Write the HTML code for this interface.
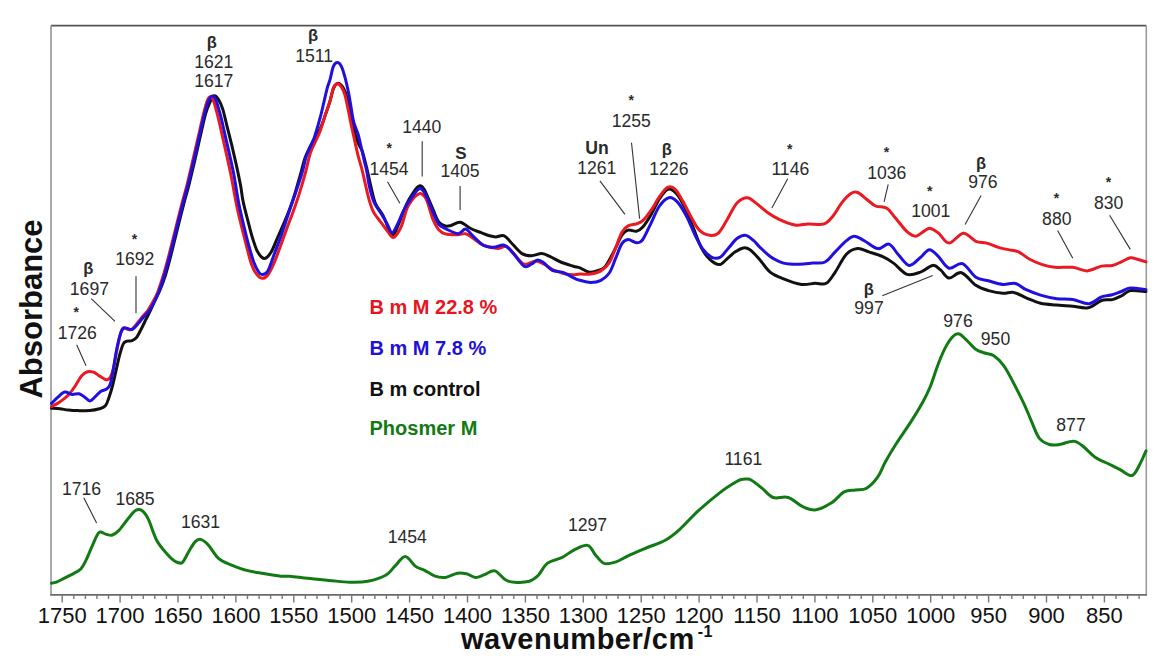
<!DOCTYPE html>
<html><head><meta charset="utf-8"><style>
html,body{margin:0;padding:0;background:#fff;}
body{width:1170px;height:669px;overflow:hidden;}
svg{display:block;font-family:"Liberation Sans",sans-serif;}
</style></head><body>
<svg width="1170" height="669" viewBox="0 0 1170 669">
<path d="M51,25.6H1146.3" stroke="#555" stroke-width="1.9" fill="none"/>
<path d="M51,25.6V594.9" stroke="#959595" stroke-width="1.6" fill="none"/>
<path d="M1146.3,25.6V594.9" stroke="#9a9a9a" stroke-width="1.6" fill="none"/>
<path d="M50.2,594.9H1147" stroke="#6a6a6a" stroke-width="1.7" fill="none"/>
<path d="M62.2,594.9V602.4 M73.8,594.9V598.9 M85.4,594.9V598.9 M96.9,594.9V598.9 M108.5,594.9V598.9 M120.1,594.9V602.4 M131.7,594.9V598.9 M143.3,594.9V598.9 M154.8,594.9V598.9 M166.4,594.9V598.9 M178.0,594.9V602.4 M189.6,594.9V598.9 M201.2,594.9V598.9 M212.7,594.9V598.9 M224.3,594.9V598.9 M235.9,594.9V602.4 M247.5,594.9V598.9 M259.1,594.9V598.9 M270.6,594.9V598.9 M282.2,594.9V598.9 M293.8,594.9V602.4 M305.4,594.9V598.9 M317.0,594.9V598.9 M328.5,594.9V598.9 M340.1,594.9V598.9 M351.7,594.9V602.4 M363.3,594.9V598.9 M374.9,594.9V598.9 M386.4,594.9V598.9 M398.0,594.9V598.9 M409.6,594.9V602.4 M421.2,594.9V598.9 M432.8,594.9V598.9 M444.3,594.9V598.9 M455.9,594.9V598.9 M467.5,594.9V602.4 M479.1,594.9V598.9 M490.7,594.9V598.9 M502.2,594.9V598.9 M513.8,594.9V598.9 M525.4,594.9V602.4 M537.0,594.9V598.9 M548.6,594.9V598.9 M560.1,594.9V598.9 M571.7,594.9V598.9 M583.3,594.9V602.4 M594.9,594.9V598.9 M606.5,594.9V598.9 M618.0,594.9V598.9 M629.6,594.9V598.9 M641.2,594.9V602.4 M652.8,594.9V598.9 M664.4,594.9V598.9 M675.9,594.9V598.9 M687.5,594.9V598.9 M699.1,594.9V602.4 M710.7,594.9V598.9 M722.3,594.9V598.9 M733.8,594.9V598.9 M745.4,594.9V598.9 M757.0,594.9V602.4 M768.6,594.9V598.9 M780.2,594.9V598.9 M791.7,594.9V598.9 M803.3,594.9V598.9 M814.9,594.9V602.4 M826.5,594.9V598.9 M838.1,594.9V598.9 M849.6,594.9V598.9 M861.2,594.9V598.9 M872.8,594.9V602.4 M884.4,594.9V598.9 M896.0,594.9V598.9 M907.5,594.9V598.9 M919.1,594.9V598.9 M930.7,594.9V602.4 M942.3,594.9V598.9 M953.9,594.9V598.9 M965.4,594.9V598.9 M977.0,594.9V598.9 M988.6,594.9V602.4 M1000.2,594.9V598.9 M1011.8,594.9V598.9 M1023.3,594.9V598.9 M1034.9,594.9V598.9 M1046.5,594.9V602.4 M1058.1,594.9V598.9 M1069.7,594.9V598.9 M1081.2,594.9V598.9 M1092.8,594.9V598.9 M1104.4,594.9V602.4 M1116.0,594.9V598.9 M1127.6,594.9V598.9 M1139.1,594.9V598.9" stroke="#777" stroke-width="1.4" fill="none"/>
<text x="62.2" y="622.6" text-anchor="middle" font-size="22" fill="#111">1750</text>
<text x="120.1" y="622.6" text-anchor="middle" font-size="22" fill="#111">1700</text>
<text x="178.0" y="622.6" text-anchor="middle" font-size="22" fill="#111">1650</text>
<text x="235.9" y="622.6" text-anchor="middle" font-size="22" fill="#111">1600</text>
<text x="293.8" y="622.6" text-anchor="middle" font-size="22" fill="#111">1550</text>
<text x="351.7" y="622.6" text-anchor="middle" font-size="22" fill="#111">1500</text>
<text x="409.6" y="622.6" text-anchor="middle" font-size="22" fill="#111">1450</text>
<text x="467.5" y="622.6" text-anchor="middle" font-size="22" fill="#111">1400</text>
<text x="525.4" y="622.6" text-anchor="middle" font-size="22" fill="#111">1350</text>
<text x="583.3" y="622.6" text-anchor="middle" font-size="22" fill="#111">1300</text>
<text x="641.2" y="622.6" text-anchor="middle" font-size="22" fill="#111">1250</text>
<text x="699.1" y="622.6" text-anchor="middle" font-size="22" fill="#111">1200</text>
<text x="757.0" y="622.6" text-anchor="middle" font-size="22" fill="#111">1150</text>
<text x="814.9" y="622.6" text-anchor="middle" font-size="22" fill="#111">1100</text>
<text x="872.8" y="622.6" text-anchor="middle" font-size="22" fill="#111">1050</text>
<text x="930.7" y="622.6" text-anchor="middle" font-size="22" fill="#111">1000</text>
<text x="988.6" y="622.6" text-anchor="middle" font-size="22" fill="#111">950</text>
<text x="1046.5" y="622.6" text-anchor="middle" font-size="22" fill="#111">900</text>
<text x="1104.4" y="622.6" text-anchor="middle" font-size="22" fill="#111">850</text>
<text x="461" y="649" font-size="29" letter-spacing="0.5" font-weight="bold" fill="#111">wavenumber/cm<tspan font-size="16" dx="3" dy="-12">-1</tspan></text>
<text transform="translate(42,309) rotate(-90)" text-anchor="middle" font-size="31" font-weight="bold" fill="#111">Absorbance</text>
<text x="369.5" y="313.8" font-size="20" font-weight="bold" fill="#e8141e">B m M 22.8 %</text>
<text x="369.5" y="355.3" font-size="20" font-weight="bold" fill="#2010d8">B m M 7.8 %</text>
<text x="369.5" y="396.0" font-size="20" font-weight="bold" fill="#111">B m control</text>
<text x="369.5" y="435.3" font-size="20" font-weight="bold" fill="#127a12">Phosmer M</text>
<path d="M91.2,298.6L115.0,321.4 M136.0,276.3L136.0,313.2 M76.7,344.8L86.0,365.7 M422.2,141.3L422.2,176.5 M387.5,181.7L399.9,203.2 M460.1,186.0L460.1,210.0 M599.9,180.9L625.0,214.4 M631.5,142.8L639.6,218.6 M787.7,178.8L771.9,208.0 M888.2,184.4L884.1,201.8 M981.1,195.6L965.1,224.4 M1057.6,230.5L1072.8,258.3 M1109.6,215.3L1130.3,249.4 M882.3,295.7L932.7,275.5 M83.8,497.8L96.6,523.0" stroke="#333" stroke-width="1.1" fill="none"/>
<text x="211.8" y="47.5" text-anchor="middle" font-size="16.5" font-weight="bold" fill="#2a2a2a">β</text>
<text x="213.8" y="68.0" text-anchor="middle" font-size="17.6" fill="#2a2a2a">1621</text>
<text x="213.8" y="86.6" text-anchor="middle" font-size="17.6" fill="#2a2a2a">1617</text>
<text x="313.1" y="41.0" text-anchor="middle" font-size="16.5" font-weight="bold" fill="#2a2a2a">β</text>
<text x="314.2" y="62.0" text-anchor="middle" font-size="17.6" fill="#2a2a2a">1511</text>
<text x="389.2" y="152.7" text-anchor="middle" font-size="14" font-weight="bold" fill="#2a2a2a">*</text>
<text x="389.1" y="175.1" text-anchor="middle" font-size="17.6" fill="#2a2a2a">1454</text>
<text x="421.7" y="132.6" text-anchor="middle" font-size="17.6" fill="#2a2a2a">1440</text>
<text x="460.9" y="158.9" text-anchor="middle" font-size="17" font-weight="bold" fill="#2a2a2a">S</text>
<text x="460.0" y="177.3" text-anchor="middle" font-size="17.6" fill="#2a2a2a">1405</text>
<text x="631.2" y="105.2" text-anchor="middle" font-size="14" font-weight="bold" fill="#2a2a2a">*</text>
<text x="631.2" y="127.1" text-anchor="middle" font-size="17.6" fill="#2a2a2a">1255</text>
<text x="597.1" y="154.4" text-anchor="middle" font-size="17.6" font-weight="bold" fill="#2a2a2a">Un</text>
<text x="596.7" y="174.2" text-anchor="middle" font-size="17.6" fill="#2a2a2a">1261</text>
<text x="666.9" y="154.5" text-anchor="middle" font-size="16.5" font-weight="bold" fill="#2a2a2a">β</text>
<text x="668.9" y="175.0" text-anchor="middle" font-size="17.6" fill="#2a2a2a">1226</text>
<text x="789.7" y="154.0" text-anchor="middle" font-size="14" font-weight="bold" fill="#2a2a2a">*</text>
<text x="790.3" y="174.9" text-anchor="middle" font-size="17.6" fill="#2a2a2a">1146</text>
<text x="886.6" y="157.3" text-anchor="middle" font-size="14" font-weight="bold" fill="#2a2a2a">*</text>
<text x="886.7" y="179.0" text-anchor="middle" font-size="17.6" fill="#2a2a2a">1036</text>
<text x="929.8" y="196.3" text-anchor="middle" font-size="14" font-weight="bold" fill="#2a2a2a">*</text>
<text x="930.8" y="217.4" text-anchor="middle" font-size="17.6" fill="#2a2a2a">1001</text>
<text x="981.1" y="168.5" text-anchor="middle" font-size="16.5" font-weight="bold" fill="#2a2a2a">β</text>
<text x="982.9" y="187.8" text-anchor="middle" font-size="17.6" fill="#2a2a2a">976</text>
<text x="1056.5" y="203.1" text-anchor="middle" font-size="14" font-weight="bold" fill="#2a2a2a">*</text>
<text x="1056.8" y="225.0" text-anchor="middle" font-size="17.6" fill="#2a2a2a">880</text>
<text x="1108.5" y="187.2" text-anchor="middle" font-size="14" font-weight="bold" fill="#2a2a2a">*</text>
<text x="1108.7" y="209.3" text-anchor="middle" font-size="17.6" fill="#2a2a2a">830</text>
<text x="868.8" y="295.0" text-anchor="middle" font-size="16.5" font-weight="bold" fill="#2a2a2a">β</text>
<text x="869.0" y="314.0" text-anchor="middle" font-size="17.6" fill="#2a2a2a">997</text>
<text x="134.5" y="243.7" text-anchor="middle" font-size="14" font-weight="bold" fill="#2a2a2a">*</text>
<text x="134.8" y="265.1" text-anchor="middle" font-size="17.6" fill="#2a2a2a">1692</text>
<text x="88.4" y="274.0" text-anchor="middle" font-size="16.5" font-weight="bold" fill="#2a2a2a">β</text>
<text x="89.4" y="294.6" text-anchor="middle" font-size="17.6" fill="#2a2a2a">1697</text>
<text x="76.2" y="316.5" text-anchor="middle" font-size="14" font-weight="bold" fill="#2a2a2a">*</text>
<text x="77.2" y="339.2" text-anchor="middle" font-size="17.6" fill="#2a2a2a">1726</text>
<text x="81.6" y="495.4" text-anchor="middle" font-size="17.6" fill="#2a2a2a">1716</text>
<text x="135.0" y="505.4" text-anchor="middle" font-size="17.6" fill="#2a2a2a">1685</text>
<text x="200.6" y="528.0" text-anchor="middle" font-size="17.6" fill="#2a2a2a">1631</text>
<text x="407.3" y="543.1" text-anchor="middle" font-size="17.6" fill="#2a2a2a">1454</text>
<text x="587.6" y="531.1" text-anchor="middle" font-size="17.6" fill="#2a2a2a">1297</text>
<text x="743.3" y="465.0" text-anchor="middle" font-size="17.6" fill="#2a2a2a">1161</text>
<text x="958.0" y="327.0" text-anchor="middle" font-size="17.6" fill="#2a2a2a">976</text>
<text x="995.5" y="345.0" text-anchor="middle" font-size="17.6" fill="#2a2a2a">950</text>
<text x="1071.0" y="431.0" text-anchor="middle" font-size="17.6" fill="#2a2a2a">877</text>
<path d="M51.5,583.2 C52.3,583.0 54.1,583.1 56.4,582.2 C58.6,581.3 62.1,579.3 65.0,577.9 C67.8,576.5 70.8,575.1 73.5,573.6 C76.2,572.1 78.9,571.0 81.0,568.7 C83.1,566.4 84.3,563.7 86.3,559.7 C88.2,555.7 90.6,549.3 92.7,544.8 C94.8,540.2 96.9,534.2 99.1,532.4 C101.2,530.6 103.4,533.6 105.6,534.1 C107.8,534.6 109.9,535.7 112.0,535.2 C114.1,534.7 115.9,533.4 118.4,530.9 C120.9,528.4 124.1,523.6 126.9,520.2 C129.8,516.8 133.0,512.2 135.5,510.6 C138.0,509.0 139.8,509.2 141.9,510.6 C144.0,512.0 145.8,514.1 148.3,519.1 C150.8,524.1 153.6,534.6 156.8,540.5 C160.0,546.4 164.3,550.8 167.5,554.4 C170.7,558.0 173.6,560.6 176.1,561.9 C178.6,563.2 180.4,564.1 182.5,562.3 C184.6,560.5 186.8,554.7 188.9,551.2 C191.0,547.8 193.4,543.6 195.3,541.6 C197.2,539.6 198.5,538.9 200.6,539.4 C202.7,539.9 205.1,541.6 208.1,544.8 C211.1,548.0 214.9,555.3 218.8,558.7 C222.7,562.1 227.0,563.2 231.6,565.1 C236.2,567.0 241.2,569.0 246.6,570.4 C251.9,571.8 258.0,572.6 263.7,573.6 C269.4,574.6 276.4,575.8 280.8,576.2 C285.2,576.6 285.5,575.9 290.0,576.2 C294.5,576.6 301.4,577.6 307.9,578.3 C314.4,579.0 321.9,579.8 328.9,580.4 C335.9,581.0 343.3,582.1 349.8,582.2 C356.3,582.4 361.8,582.4 367.8,581.3 C373.8,580.1 381.2,577.8 385.7,575.3 C390.2,572.8 391.4,569.5 394.7,566.4 C397.9,563.3 401.7,556.5 405.2,556.5 C408.7,556.5 412.4,564.1 415.6,566.4 C418.8,568.7 421.4,568.7 424.6,570.3 C427.9,571.9 431.6,575.0 435.1,576.2 C438.6,577.4 441.9,577.9 445.6,577.4 C449.3,576.9 454.0,573.8 457.5,573.2 C461.0,572.6 463.5,573.1 466.5,573.8 C469.5,574.5 472.5,577.2 475.5,577.4 C478.5,577.5 481.2,575.8 484.4,574.7 C487.6,573.6 491.4,570.0 494.9,570.9 C498.4,571.8 502.1,577.9 505.4,579.8 C508.6,581.7 510.4,582.0 514.4,582.2 C518.4,582.5 525.3,582.4 529.3,581.3 C533.3,580.1 535.3,578.3 538.3,575.3 C541.3,572.3 543.3,566.4 547.3,563.4 C551.3,560.4 557.7,559.6 562.2,557.4 C566.7,555.1 570.0,551.9 574.2,549.9 C578.4,547.9 584.1,544.6 587.6,545.4 C591.1,546.1 592.4,551.4 595.1,554.4 C597.9,557.4 600.6,562.1 604.1,563.4 C607.6,564.6 612.0,563.1 616.0,561.9 C620.0,560.6 623.0,558.2 628.0,555.9 C633.0,553.6 640.1,550.6 646.2,548.0 C652.3,545.4 659.2,543.6 664.8,540.5 C670.4,537.4 674.2,534.3 679.8,529.3 C685.4,524.3 691.6,516.8 698.5,510.6 C705.4,504.4 714.8,496.6 720.9,491.9 C727.0,487.2 731.6,484.6 735.0,482.5 C738.4,480.4 739.1,480.1 741.0,479.5 C742.9,478.9 744.8,478.9 746.5,479.0 C748.2,479.1 748.9,478.7 751.5,480.2 C754.1,481.7 758.4,485.3 762.0,488.2 C765.6,491.1 768.8,495.9 773.2,497.5 C777.6,499.1 783.2,495.9 788.2,497.5 C793.2,499.1 798.4,504.8 803.1,506.8 C807.8,508.9 811.5,510.4 816.2,509.8 C820.9,509.2 826.4,506.1 831.1,503.1 C835.8,500.1 840.2,494.1 844.2,491.9 C848.2,489.7 851.7,490.6 855.4,490.0 C859.1,489.4 862.9,490.4 866.6,488.2 C870.3,486.0 874.7,481.3 877.8,476.9 C880.9,472.5 882.2,467.6 885.3,462.0 C888.4,456.4 892.1,450.2 896.5,443.3 C900.9,436.4 907.1,427.8 911.5,420.9 C915.9,414.0 919.6,407.8 922.7,402.2 C925.8,396.6 927.5,393.4 930.0,387.3 C932.5,381.2 935.1,372.3 937.6,365.7 C940.1,359.1 942.7,352.8 945.2,347.9 C947.8,343.0 950.6,338.8 952.9,336.5 C955.2,334.2 956.9,333.4 959.2,334.0 C961.5,334.6 964.0,337.8 966.8,340.3 C969.5,342.8 972.7,347.1 975.7,349.2 C978.7,351.3 981.6,351.9 984.6,353.0 C987.6,354.1 990.3,353.5 993.5,355.6 C996.7,357.7 1000.3,361.1 1003.7,365.7 C1007.1,370.3 1010.4,377.1 1013.8,383.5 C1017.2,389.9 1021.0,397.4 1024.0,403.8 C1027.0,410.2 1029.1,415.9 1031.6,421.6 C1034.1,427.3 1036.2,434.3 1039.2,438.1 C1042.2,441.9 1046.0,443.4 1049.4,444.5 C1052.8,445.6 1056.4,444.9 1059.6,444.5 C1062.8,444.1 1066.0,442.5 1068.5,442.0 C1071.0,441.5 1072.5,440.8 1074.8,441.4 C1077.1,442.0 1079.0,443.2 1082.4,445.8 C1085.8,448.4 1090.9,454.2 1095.1,457.2 C1099.3,460.1 1103.6,461.4 1107.8,463.5 C1112.0,465.6 1116.5,467.9 1120.5,469.9 C1124.5,471.9 1128.8,476.4 1132.0,475.5 C1135.2,474.6 1137.3,468.9 1139.6,464.8 C1141.9,460.7 1144.9,453.1 1146.0,450.8" stroke="#127a12" stroke-width="3.0" fill="none" stroke-linejoin="round" stroke-linecap="round"/>
<path d="M51.5,408.2 C52.9,408.3 57.2,408.5 60.0,408.8 C62.8,409.1 65.3,409.7 68.3,410.0 C71.3,410.3 74.3,410.5 77.9,410.6 C81.5,410.7 86.3,410.9 89.9,410.6 C93.5,410.3 96.8,409.6 99.4,408.8 C102.0,408.0 103.8,407.7 105.4,405.8 C107.0,403.9 107.8,400.8 109.0,397.4 C110.2,394.0 111.4,390.1 112.6,385.5 C113.8,380.9 115.0,375.1 116.2,369.9 C117.4,364.7 118.6,358.8 119.8,354.4 C121.0,350.0 122.2,345.8 123.4,343.6 C124.6,341.4 125.5,341.7 127.0,341.2 C128.4,340.7 130.5,341.3 132.1,340.7 C133.7,340.1 135.0,339.6 136.6,337.4 C138.2,335.2 140.3,330.8 141.9,327.7 C143.5,324.6 144.8,321.7 146.3,318.7 C147.8,315.7 149.3,313.0 150.8,309.7 C152.3,306.4 154.0,302.3 155.5,299.0 C157.0,295.7 158.3,294.0 160.0,290.0 C161.7,286.0 163.8,280.4 165.5,275.0 C167.2,269.6 168.7,263.8 170.3,257.7 C171.9,251.6 173.7,244.1 175.1,238.3 C176.5,232.5 177.5,228.5 179.0,222.7 C180.5,216.9 182.3,209.5 183.9,203.3 C185.5,197.2 187.2,191.7 188.7,185.8 C190.2,179.9 191.6,174.0 193.0,168.0 C194.4,162.0 195.8,156.2 197.2,150.0 C198.6,143.8 200.1,137.0 201.5,131.0 C202.9,125.0 204.1,118.8 205.5,114.0 C206.9,109.2 208.6,105.0 210.0,102.0 C211.4,99.0 212.8,96.2 214.2,95.8 C215.6,95.4 217.1,97.3 218.5,99.5 C219.9,101.7 221.2,104.3 222.7,108.9 C224.1,113.5 225.7,120.9 227.2,126.9 C228.7,132.9 230.2,138.7 231.7,144.9 C233.2,151.1 234.7,157.6 236.2,164.3 C237.7,171.0 239.3,178.8 240.5,185.0 C241.7,191.2 241.8,195.4 243.1,201.4 C244.3,207.4 246.4,214.8 248.0,221.1 C249.6,227.4 251.2,234.0 252.9,239.2 C254.6,244.4 256.0,249.1 257.9,252.3 C259.8,255.5 262.2,258.5 264.4,258.5 C266.6,258.5 268.8,255.8 271.0,252.3 C273.2,248.8 275.4,242.4 277.6,237.5 C279.8,232.6 282.0,227.9 284.2,222.7 C286.4,217.5 288.7,211.8 290.7,206.3 C292.7,200.9 294.4,195.4 296.0,190.0 C297.6,184.6 299.1,179.3 300.6,174.0 C302.1,168.7 303.4,162.5 305.0,158.0 C306.6,153.5 308.2,150.7 310.0,147.0 C311.8,143.3 314.2,139.2 316.0,136.0 C317.8,132.8 318.9,131.5 320.5,128.0 C322.1,124.5 323.8,119.3 325.4,114.8 C327.0,110.3 328.6,105.5 330.0,101.1 C331.4,96.7 332.2,91.5 333.5,88.5 C334.8,85.5 336.3,83.7 337.8,83.4 C339.3,83.1 341.0,84.9 342.3,86.5 C343.6,88.1 344.5,89.7 345.6,92.9 C346.7,96.2 347.8,101.2 348.9,106.0 C350.0,110.8 351.1,117.2 352.2,122.0 C353.3,126.8 354.4,131.2 355.5,135.0 C356.6,138.8 357.9,142.3 359.0,145.0 C360.1,147.7 360.9,147.2 362.2,151.0 C363.5,154.8 365.2,161.8 366.7,167.9 C368.2,174.0 369.6,181.4 371.1,187.4 C372.6,193.4 373.6,199.1 375.6,203.8 C377.6,208.5 380.6,210.7 383.1,215.7 C385.6,220.7 388.9,230.4 390.6,233.7 C392.4,236.9 392.1,237.1 393.6,235.2 C395.1,233.2 397.8,226.2 399.5,222.0 C401.2,217.8 402.4,213.8 404.0,210.0 C405.6,206.2 407.3,202.6 409.0,199.5 C410.7,196.4 412.6,193.6 414.0,191.5 C415.4,189.4 416.4,188.0 417.5,187.0 C418.6,186.0 419.4,185.4 420.5,185.7 C421.6,186.0 422.9,187.3 424.0,189.0 C425.1,190.7 425.7,192.4 427.2,195.8 C428.7,199.2 431.0,204.9 432.9,209.2 C434.8,213.5 436.4,218.8 438.5,221.6 C440.6,224.4 443.1,225.3 445.2,226.0 C447.3,226.7 448.5,226.1 451.0,225.5 C453.5,224.9 456.9,221.7 460.2,222.2 C463.5,222.7 467.2,226.8 470.7,228.5 C474.2,230.2 478.1,231.5 481.2,232.7 C484.3,233.9 487.1,235.1 489.5,235.8 C491.9,236.5 493.4,236.9 495.8,236.9 C498.2,236.9 501.4,234.6 504.2,235.8 C507.0,237.0 509.6,241.2 512.6,244.2 C515.6,247.2 518.9,251.7 522.0,253.6 C525.1,255.5 528.1,255.7 531.4,255.7 C534.7,255.7 538.8,253.4 541.9,253.6 C545.0,253.8 547.1,255.3 550.2,256.7 C553.3,258.1 556.9,260.4 560.7,262.0 C564.5,263.6 570.0,265.2 573.2,266.2 C576.4,267.2 577.5,266.8 580.0,267.8 C582.5,268.8 585.6,271.5 588.4,272.0 C591.2,272.5 593.9,271.8 596.7,270.9 C599.5,270.0 602.3,269.8 605.1,266.7 C607.9,263.6 610.7,257.3 613.5,252.1 C616.3,246.9 619.5,239.0 621.9,235.3 C624.3,231.6 625.7,230.8 628.1,230.1 C630.5,229.4 634.0,231.7 636.5,231.2 C639.0,230.7 640.3,229.8 642.8,227.0 C645.2,224.2 648.4,219.1 651.2,214.4 C654.0,209.7 656.7,202.9 659.5,198.7 C662.3,194.5 665.1,190.2 667.9,189.3 C670.7,188.4 673.5,190.5 676.3,193.5 C679.1,196.5 681.8,201.5 684.6,207.1 C687.4,212.7 690.2,220.2 693.0,227.0 C695.8,233.8 698.6,242.5 701.4,247.9 C704.2,253.3 706.8,256.6 709.8,259.4 C712.8,262.2 716.4,264.6 719.2,264.6 C722.0,264.6 723.9,261.5 726.5,259.4 C729.1,257.3 732.1,254.0 734.9,252.1 C737.7,250.2 740.8,248.3 743.3,247.9 C745.8,247.5 747.4,247.9 750.0,249.7 C752.6,251.5 755.6,255.0 759.0,258.7 C762.4,262.4 766.1,268.8 770.2,272.1 C774.3,275.5 778.4,276.8 783.6,278.8 C788.8,280.9 796.4,283.6 801.6,284.4 C806.8,285.1 810.9,283.5 815.0,283.3 C819.1,283.1 822.8,285.2 826.2,283.3 C829.6,281.4 831.8,277.0 835.2,272.1 C838.6,267.2 842.7,258.1 846.4,254.2 C850.1,250.3 853.9,249.0 857.6,248.6 C861.3,248.2 864.7,250.6 868.8,251.9 C872.9,253.2 878.2,254.5 882.3,256.4 C886.4,258.3 889.4,260.1 893.5,263.1 C897.6,266.1 902.5,272.8 907.0,274.3 C911.5,275.8 916.1,273.6 920.4,272.1 C924.7,270.6 929.3,265.8 932.7,265.4 C936.1,265.0 937.9,267.8 940.6,269.9 C943.3,272.0 945.5,277.6 949.0,278.1 C952.5,278.6 957.0,271.5 961.5,272.7 C966.0,273.9 971.4,282.3 975.9,285.3 C980.4,288.3 984.0,289.3 988.5,290.6 C993.0,291.9 998.6,293.0 1002.8,293.3 C1007.0,293.6 1009.7,291.6 1013.6,292.4 C1017.5,293.1 1021.7,296.0 1026.2,297.8 C1030.7,299.6 1035.4,302.0 1040.5,303.2 C1045.6,304.4 1051.3,304.5 1056.7,305.0 C1062.1,305.5 1067.6,305.9 1072.8,306.3 C1078.0,306.8 1083.3,308.7 1088.1,307.7 C1092.9,306.7 1097.5,301.9 1101.5,300.5 C1105.5,299.1 1109.0,300.4 1112.3,299.6 C1115.6,298.9 1118.3,297.5 1121.3,296.0 C1124.3,294.5 1126.2,291.4 1130.3,290.6 C1134.4,289.9 1143.4,291.4 1146.0,291.5" stroke="#111" stroke-width="3.0" fill="none" stroke-linejoin="round" stroke-linecap="round"/>
<path d="M51.5,406.5 C52.5,406.0 55.6,404.6 57.6,403.4 C59.6,402.2 61.6,400.8 63.6,399.2 C65.6,397.6 67.5,396.1 69.5,393.8 C71.5,391.5 73.5,388.5 75.5,385.5 C77.5,382.5 79.5,378.2 81.5,375.9 C83.5,373.6 85.5,372.3 87.5,371.7 C89.5,371.1 91.5,371.4 93.5,372.1 C95.5,372.8 97.4,374.7 99.4,375.9 C101.4,377.1 104.0,378.9 105.4,379.5 C106.8,380.1 107.0,379.9 107.8,379.5 C108.6,379.1 109.5,378.9 110.5,377.0 C111.5,375.1 112.5,372.2 113.5,368.0 C114.5,363.8 115.5,356.8 116.5,352.0 C117.5,347.2 118.4,342.5 119.2,339.0 C120.0,335.5 120.7,332.8 121.5,331.0 C122.3,329.2 123.2,328.6 124.2,328.3 C125.2,328.0 126.4,329.0 127.5,329.2 C128.6,329.4 129.8,330.1 131.0,329.6 C132.2,329.2 133.2,327.9 134.5,326.5 C135.8,325.1 137.5,322.7 139.0,320.9 C140.5,319.1 141.8,317.4 143.3,315.7 C144.8,314.0 146.3,312.6 147.8,310.5 C149.3,308.4 150.7,306.0 152.3,303.0 C153.9,300.0 155.8,297.2 157.6,292.6 C159.4,288.0 161.6,280.9 163.4,275.1 C165.2,269.3 166.7,263.8 168.3,257.7 C169.9,251.6 171.7,244.1 173.2,238.3 C174.7,232.5 175.6,228.5 177.1,222.7 C178.6,216.9 180.4,209.5 182.0,203.3 C183.6,197.2 185.3,191.7 186.8,185.8 C188.3,179.9 189.6,174.0 191.0,168.0 C192.4,162.0 193.8,156.2 195.2,150.0 C196.6,143.8 198.2,137.0 199.6,131.0 C201.0,125.0 202.3,118.7 203.5,114.0 C204.7,109.3 205.6,105.8 206.5,103.0 C207.4,100.2 208.1,97.8 209.2,97.2 C210.3,96.6 211.6,96.5 213.0,99.5 C214.4,102.5 216.0,109.1 217.5,114.9 C219.0,120.7 220.5,127.9 222.0,134.4 C223.5,140.9 224.9,147.2 226.4,153.9 C227.9,160.6 229.2,166.4 230.9,174.8 C232.6,183.2 234.8,196.1 236.5,204.6 C238.2,213.1 239.8,219.2 241.4,226.0 C243.1,232.8 244.8,239.4 246.4,245.7 C248.1,252.0 249.7,259.1 251.3,263.8 C252.9,268.5 254.4,271.3 256.2,273.7 C258.0,276.1 260.1,278.0 262.0,278.3 C263.9,278.6 265.6,277.9 267.7,275.3 C269.8,272.7 272.2,267.4 274.3,262.5 C276.4,257.6 278.4,251.8 280.5,246.0 C282.6,240.2 284.9,233.8 287.0,228.0 C289.1,222.2 291.1,217.4 293.2,211.5 C295.3,205.6 297.6,199.0 299.6,192.6 C301.6,186.2 303.6,179.5 305.4,172.9 C307.2,166.3 308.4,158.9 310.3,153.2 C312.2,147.5 315.2,142.4 316.9,138.5 C318.6,134.6 319.1,133.9 320.5,130.0 C321.9,126.0 323.8,119.6 325.4,114.8 C327.0,110.0 328.7,105.6 330.0,101.1 C331.3,96.6 332.1,90.9 333.3,88.0 C334.5,85.1 336.0,84.0 337.4,83.8 C338.8,83.6 340.3,85.3 341.5,87.1 C342.7,88.9 343.7,90.8 344.8,94.5 C345.9,98.2 347.0,104.1 348.1,109.3 C349.2,114.5 350.3,120.6 351.4,125.8 C352.5,131.0 353.6,135.7 354.7,140.6 C355.8,145.5 356.8,150.5 358.0,155.4 C359.2,160.3 360.8,164.7 362.1,170.0 C363.4,175.3 364.8,181.8 366.0,187.0 C367.2,192.2 368.2,196.8 369.5,201.0 C370.8,205.2 371.5,208.3 373.5,212.0 C375.5,215.7 379.2,220.0 381.6,223.2 C384.0,226.4 385.7,229.0 387.6,231.4 C389.5,233.8 391.2,237.0 392.8,237.4 C394.4,237.8 395.6,235.9 397.0,234.0 C398.4,232.1 399.8,230.3 401.5,226.0 C403.2,221.7 405.2,212.6 407.1,208.1 C409.0,203.6 411.1,201.3 412.7,199.1 C414.3,196.9 415.7,195.9 417.0,195.0 C418.3,194.1 419.3,193.3 420.5,193.5 C421.7,193.7 422.9,194.7 424.0,196.0 C425.1,197.3 425.7,197.5 427.2,201.4 C428.7,205.3 431.0,214.6 432.9,219.3 C434.8,224.0 436.4,227.0 438.5,229.4 C440.6,231.8 442.3,233.0 445.2,233.9 C448.1,234.8 452.6,234.8 456.0,234.8 C459.4,234.8 462.7,233.2 465.5,233.7 C468.3,234.2 469.8,236.0 472.8,237.9 C475.8,239.8 479.1,243.4 483.3,245.2 C487.5,246.9 494.1,248.2 497.9,248.4 C501.7,248.6 503.5,245.3 506.3,246.3 C509.1,247.3 511.6,251.6 514.6,254.6 C517.6,257.6 520.6,263.1 524.1,264.1 C527.6,265.2 532.3,260.9 535.6,260.9 C538.9,260.9 540.9,262.5 544.0,264.1 C547.1,265.7 550.2,268.6 554.4,270.3 C558.6,272.0 564.8,273.9 569.1,274.5 C573.4,275.1 576.4,274.2 580.0,274.1 C583.6,274.0 587.0,274.6 590.5,274.1 C594.0,273.6 597.8,272.8 600.9,270.9 C604.0,269.0 606.8,266.4 609.3,262.6 C611.8,258.8 613.5,253.0 615.6,247.9 C617.7,242.8 619.8,235.9 621.9,232.2 C624.0,228.5 625.7,227.3 628.1,225.9 C630.5,224.5 634.0,224.7 636.5,223.8 C639.0,222.9 640.3,223.0 642.8,220.7 C645.2,218.4 648.4,214.2 651.2,210.2 C654.0,206.2 656.7,200.4 659.5,196.6 C662.3,192.8 665.3,188.4 667.9,187.2 C670.5,186.0 672.8,187.0 675.2,189.3 C677.7,191.6 680.0,196.3 682.6,200.8 C685.2,205.3 688.1,211.6 690.9,216.5 C693.7,221.4 696.1,227.0 699.3,230.1 C702.4,233.2 706.7,234.8 709.8,235.3 C712.9,235.8 715.3,235.7 718.1,233.3 C720.9,230.9 723.4,225.8 726.5,220.7 C729.6,215.6 733.5,206.7 737.0,202.9 C740.5,199.1 744.3,197.7 747.4,197.7 C750.5,197.7 752.4,200.4 755.8,202.9 C759.2,205.4 764.0,209.9 767.9,212.7 C771.8,215.4 774.6,217.3 779.1,219.4 C783.6,221.5 789.9,224.2 794.8,225.0 C799.7,225.8 803.4,224.1 808.3,223.9 C813.2,223.7 819.9,225.2 824.0,223.9 C828.1,222.6 830.0,219.6 833.0,216.0 C836.0,212.4 838.9,206.3 841.9,202.6 C844.9,198.9 848.3,195.3 850.9,193.6 C853.5,191.9 855.0,191.6 857.6,192.5 C860.2,193.4 863.6,196.9 866.6,199.2 C869.6,201.4 872.2,204.5 875.6,206.0 C879.0,207.5 883.4,206.1 886.8,208.2 C890.1,210.2 892.3,214.4 895.7,218.3 C899.1,222.2 903.6,228.7 907.0,231.7 C910.4,234.7 912.9,236.4 915.9,236.2 C918.9,236.0 922.5,231.9 924.9,230.6 C927.3,229.3 928.3,228.0 930.5,228.4 C932.7,228.8 935.2,230.5 938.3,232.9 C941.4,235.3 944.8,243.1 949.0,243.1 C953.2,243.1 958.8,233.5 963.3,233.2 C967.8,232.9 972.0,239.7 975.9,241.3 C979.8,243.0 982.8,242.1 986.7,243.1 C990.6,244.1 995.0,246.4 999.2,247.6 C1003.4,248.8 1008.5,249.6 1011.8,250.3 C1015.1,251.1 1016.0,250.6 1019.0,252.1 C1022.0,253.6 1025.8,257.1 1029.7,259.2 C1033.6,261.3 1038.1,263.2 1042.3,264.6 C1046.5,266.0 1049.8,266.9 1054.9,267.3 C1060.0,267.8 1067.4,266.7 1072.8,267.3 C1078.2,267.9 1082.4,271.1 1087.2,270.9 C1092.0,270.7 1097.3,267.0 1101.5,266.1 C1105.7,265.2 1109.0,266.2 1112.3,265.5 C1115.6,264.8 1118.3,263.2 1121.3,261.9 C1124.3,260.6 1127.6,258.2 1130.3,257.8 C1133.0,257.4 1134.8,258.5 1137.4,259.2 C1140.0,259.9 1144.6,261.4 1146.0,261.9" stroke="#ea1a22" stroke-width="3.0" fill="none" stroke-linejoin="round" stroke-linecap="round"/>
<path d="M51.5,403.4 C52.5,402.4 55.4,399.3 57.6,397.4 C59.8,395.5 62.3,392.5 64.7,392.0 C67.1,391.5 69.5,394.1 71.9,394.4 C74.3,394.7 76.9,393.3 79.1,393.8 C81.3,394.3 83.3,396.2 85.1,397.4 C86.9,398.6 88.1,401.2 89.9,401.0 C91.7,400.8 94.0,397.8 95.8,396.2 C97.6,394.6 98.8,392.6 100.6,391.4 C102.4,390.2 105.0,390.2 106.6,389.0 C108.2,387.8 109.1,387.5 110.2,384.3 C111.3,381.1 112.2,375.3 113.2,369.9 C114.2,364.5 115.2,357.4 116.2,352.0 C117.2,346.6 118.4,341.2 119.4,337.4 C120.4,333.6 121.5,330.7 122.4,329.1 C123.3,327.5 123.7,327.8 124.7,327.7 C125.7,327.6 127.2,328.5 128.4,328.8 C129.6,329.1 130.8,329.9 132.1,329.5 C133.3,329.1 134.5,327.6 135.9,326.2 C137.3,324.8 138.9,322.6 140.4,320.9 C141.9,319.1 143.3,317.4 144.8,315.7 C146.3,314.0 147.8,312.6 149.3,310.5 C150.8,308.4 152.2,306.0 153.8,303.0 C155.4,300.0 156.8,297.2 158.6,292.6 C160.4,288.0 162.6,280.9 164.4,275.1 C166.2,269.3 167.7,263.8 169.3,257.7 C170.9,251.6 172.7,244.1 174.1,238.3 C175.5,232.5 176.5,228.5 178.0,222.7 C179.5,216.9 181.3,209.5 182.9,203.3 C184.5,197.2 186.2,191.7 187.7,185.8 C189.2,179.9 190.6,174.0 192.0,168.0 C193.4,162.0 194.8,156.2 196.2,150.0 C197.6,143.8 199.1,137.0 200.5,131.0 C201.9,125.0 203.2,118.8 204.4,114.0 C205.7,109.2 206.8,105.0 208.0,102.0 C209.2,99.0 210.6,96.7 211.8,96.2 C213.1,95.7 214.1,95.9 215.5,99.0 C216.9,102.1 218.8,109.0 220.4,114.9 C222.0,120.8 223.4,127.9 224.9,134.4 C226.4,140.9 227.9,147.2 229.4,153.9 C230.9,160.6 232.3,166.4 233.9,174.8 C235.5,183.2 237.3,196.1 239.0,204.6 C240.7,213.1 242.3,219.2 243.9,226.0 C245.5,232.8 247.2,239.7 248.8,245.7 C250.5,251.7 252.2,257.8 253.8,262.2 C255.5,266.6 257.3,269.9 258.7,272.0 C260.1,274.1 260.5,274.6 262.0,274.5 C263.5,274.4 265.6,274.6 267.7,271.2 C269.8,267.8 272.1,259.9 274.3,254.0 C276.5,248.1 278.7,242.5 281.0,236.0 C283.3,229.5 285.6,222.2 288.0,215.0 C290.4,207.8 293.1,200.0 295.5,193.0 C297.9,186.0 300.3,179.0 302.1,172.9 C303.9,166.8 304.6,161.3 306.2,156.4 C307.8,151.5 310.4,146.8 311.9,143.3 C313.3,139.9 313.4,140.4 314.9,135.7 C316.4,130.9 318.9,122.5 320.9,114.8 C322.9,107.1 325.4,95.2 326.9,89.4 C328.4,83.6 328.9,83.5 330.0,79.7 C331.1,75.9 332.1,69.5 333.3,66.6 C334.5,63.7 336.0,62.5 337.4,62.5 C338.8,62.5 340.1,63.7 341.5,66.6 C342.9,69.5 344.4,75.0 345.6,79.7 C346.8,84.4 347.9,89.6 348.9,94.5 C349.9,99.4 350.6,104.6 351.4,109.3 C352.2,114.0 352.7,118.4 353.8,122.5 C354.9,126.6 356.8,129.9 358.0,134.0 C359.2,138.1 360.1,142.5 361.2,147.2 C362.3,151.9 363.6,158.2 364.5,162.0 C365.4,165.8 365.6,165.8 366.5,170.0 C367.4,174.2 368.3,182.0 369.6,187.4 C370.9,192.8 372.1,197.8 374.1,202.3 C376.1,206.8 379.4,210.5 381.6,214.2 C383.9,217.9 385.9,221.6 387.6,224.7 C389.4,227.8 390.4,233.2 392.1,232.9 C393.8,232.7 396.2,226.6 398.0,223.2 C399.8,219.8 400.9,216.0 402.6,212.6 C404.3,209.2 406.3,205.5 408.2,202.5 C410.1,199.5 412.2,196.8 413.8,194.7 C415.4,192.6 416.4,191.0 417.5,190.0 C418.6,189.0 419.4,188.2 420.5,188.5 C421.6,188.8 422.9,190.4 424.0,192.0 C425.1,193.6 425.7,194.7 427.2,198.0 C428.7,201.3 431.0,207.7 432.9,212.0 C434.8,216.3 436.4,221.2 438.5,224.0 C440.6,226.8 441.9,226.9 445.2,228.5 C448.5,230.1 454.7,233.6 458.1,233.7 C461.5,233.8 463.1,228.8 465.5,229.1 C467.9,229.4 469.8,233.1 472.8,235.8 C475.8,238.5 479.8,243.3 483.3,245.2 C486.8,247.1 490.2,247.3 493.7,247.3 C497.2,247.3 501.0,244.3 504.2,245.2 C507.4,246.1 509.3,249.1 512.6,252.6 C515.9,256.1 521.0,264.3 524.1,266.2 C527.2,268.1 529.1,265.2 531.4,264.1 C533.7,263.1 535.6,260.1 537.7,259.9 C539.8,259.7 541.6,261.3 544.0,263.0 C546.4,264.7 549.2,268.7 552.3,270.3 C555.4,271.9 559.0,271.0 562.8,272.4 C566.6,273.8 572.4,277.4 575.3,278.7 C578.2,280.0 577.5,279.7 580.0,280.3 C582.5,280.9 587.0,282.4 590.5,282.4 C594.0,282.4 597.8,281.9 600.9,280.3 C604.0,278.7 606.8,276.6 609.3,273.0 C611.8,269.4 613.5,263.3 615.6,258.4 C617.7,253.5 619.8,246.8 621.9,243.7 C624.0,240.5 625.7,239.7 628.1,239.5 C630.5,239.3 634.0,242.7 636.5,242.7 C639.0,242.7 640.3,242.8 642.8,239.5 C645.2,236.2 648.4,228.4 651.2,222.8 C654.0,217.2 656.5,210.2 659.5,206.0 C662.5,201.8 665.9,198.4 668.9,197.7 C671.9,197.0 674.3,198.8 677.3,201.9 C680.3,205.0 683.7,210.9 686.7,216.5 C689.7,222.1 692.3,229.7 695.1,235.3 C697.9,240.9 700.7,246.3 703.5,250.0 C706.3,253.7 709.1,256.1 711.9,257.3 C714.7,258.5 717.4,258.9 720.2,257.3 C723.0,255.7 725.8,251.0 728.6,247.9 C731.4,244.8 734.2,240.6 737.0,238.5 C739.8,236.4 742.5,235.0 745.3,235.3 C748.1,235.7 751.4,238.8 753.7,240.6 C756.0,242.4 756.2,243.7 759.0,246.3 C761.8,248.9 766.1,253.6 770.2,256.4 C774.3,259.2 778.8,261.8 783.6,263.1 C788.5,264.4 794.4,264.3 799.3,264.3 C804.2,264.3 808.5,263.5 812.8,263.1 C817.1,262.7 821.4,263.9 825.1,262.0 C828.8,260.1 831.7,255.5 835.2,251.9 C838.8,248.3 843.2,243.3 846.4,240.7 C849.6,238.1 851.3,236.2 854.3,236.2 C857.3,236.2 860.4,238.6 864.3,240.7 C868.2,242.8 873.7,248.0 877.8,248.6 C881.9,249.2 885.6,243.2 889.0,244.1 C892.4,245.0 894.6,250.6 898.0,254.2 C901.4,257.8 905.5,264.8 909.2,265.4 C912.9,265.9 917.0,260.1 920.4,257.5 C923.8,254.9 926.4,249.9 929.4,249.7 C932.4,249.5 935.0,253.3 938.3,256.4 C941.6,259.5 945.0,267.0 949.0,268.2 C953.0,269.4 957.9,262.2 962.4,263.7 C966.9,265.2 971.5,274.3 975.9,277.2 C980.2,280.1 984.0,279.6 988.5,280.8 C993.0,282.0 998.3,283.9 1002.8,284.4 C1007.3,284.8 1011.5,282.6 1015.4,283.5 C1019.3,284.4 1022.0,287.8 1026.2,289.7 C1030.4,291.6 1035.4,293.6 1040.5,295.1 C1045.6,296.6 1051.3,297.9 1056.7,298.7 C1062.1,299.4 1067.4,298.8 1072.8,299.6 C1078.2,300.4 1084.2,304.1 1089.0,303.7 C1093.8,303.2 1097.6,298.4 1101.5,296.9 C1105.4,295.4 1109.0,295.7 1112.3,294.8 C1115.6,293.9 1118.3,292.6 1121.3,291.5 C1124.3,290.4 1126.2,288.3 1130.3,288.0 C1134.4,287.7 1143.4,289.4 1146.0,289.7" stroke="#2010e0" stroke-width="3.0" fill="none" stroke-linejoin="round" stroke-linecap="round"/>
</svg>
</body></html>
